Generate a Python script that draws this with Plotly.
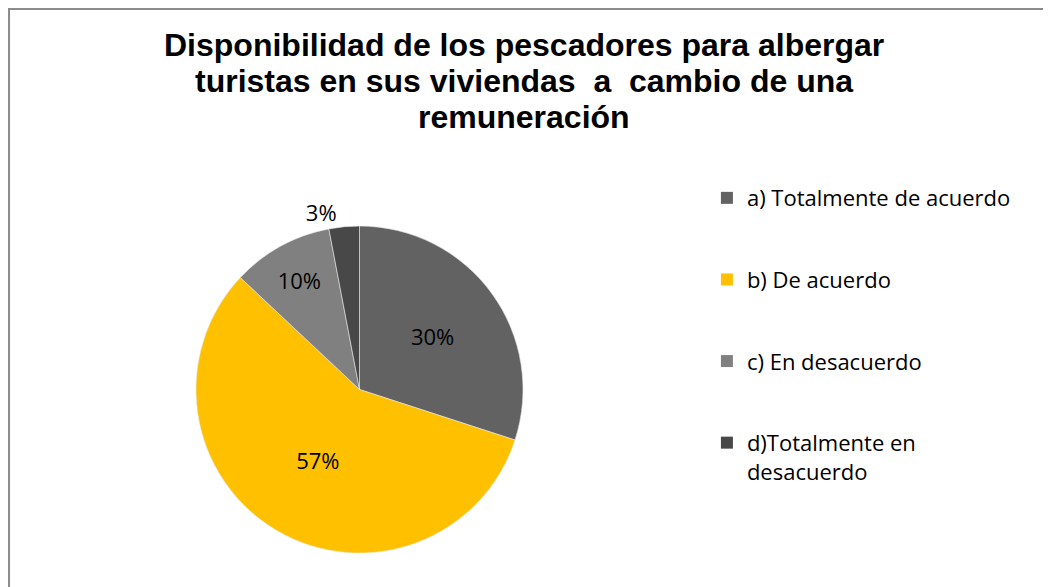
import plotly.graph_objects as go

categories = ["a) Totalmente de acuerdo", "b) De acuerdo", "c) En desacuerdo", "d)Totalmente en<br>desacuerdo"]
values = [30, 57, 10, 3]
colors = ["#626262", "#FFC000", "#808080", "#484848"]
title_lines = ["Disponibilidad de los pescadores para albergar",
               "turistas en sus viviendas  a  cambio de una",
               "remuneración"]

W, H = 1051, 587
OFF = 8  # page body margin offset

fig = go.Figure()
fig.add_trace(go.Pie(
    labels=categories, values=values, sort=False, direction="clockwise", rotation=0,
    marker=dict(colors=colors, line=dict(color="#e8e8e8", width=0.6)),
    texttemplate="%{percent:.0%}",
    textposition=["inside", "inside", "inside", "outside"],
    insidetextorientation="horizontal",
    textfont=dict(family="Open Sans, sans-serif", size=22, color="#000000"),
    outsidetextfont=dict(family="Open Sans, sans-serif", size=22, color="#000000"),
    showlegend=False, hoverinfo="label+percent",
    domain=dict(x=[(195-OFF)/W, (524-OFF)/W], y=[(H-553+OFF)/H, (H-226+OFF)/H]),
))

for i, (cat, col) in enumerate(zip(categories, colors)):
    fig.add_trace(go.Scatter(
        x=[None], y=[None], mode="markers", name=cat,
        marker=dict(symbol="square", size=15, color=col),
        legendgroup="g%d" % i, showlegend=True,
    ))

title_y = [45, 81, 117]
annotations = [dict(text="<b>%s</b>" % t, xref="paper", yref="paper",
                    x=(523.5-OFF)/W, y=1-(yy-OFF)/H, xanchor="center", yanchor="middle",
                    showarrow=False, align="center",
                    font=dict(family="Liberation Sans, Arial, sans-serif", size=32, color="#000000"))
               for t, yy in zip(title_lines, title_y)]

fig.update_layout(
    width=W, height=H,
    margin=dict(l=0, r=0, t=0, b=0),
    paper_bgcolor="white", plot_bgcolor="white",
    xaxis=dict(visible=False), yaxis=dict(visible=False),
    annotations=annotations,
    legend=dict(x=0.665, y=0.712, xanchor="left", yanchor="top",
                font=dict(family="Open Sans, sans-serif", size=22, color="#000000"),
                tracegroupgap=50, valign="top", itemsizing="constant", itemwidth=30,
                bgcolor="rgba(0,0,0,0)"),
    shapes=[dict(type="rect", xref="paper", yref="paper", x0=0.8/W, x1=1.05, y0=-0.05, y1=1-0.8/H,
                 line=dict(color="#8c8c8c", width=2.5), fillcolor="rgba(0,0,0,0)")],
    showlegend=True,
)

fig.write_html("out.html")
